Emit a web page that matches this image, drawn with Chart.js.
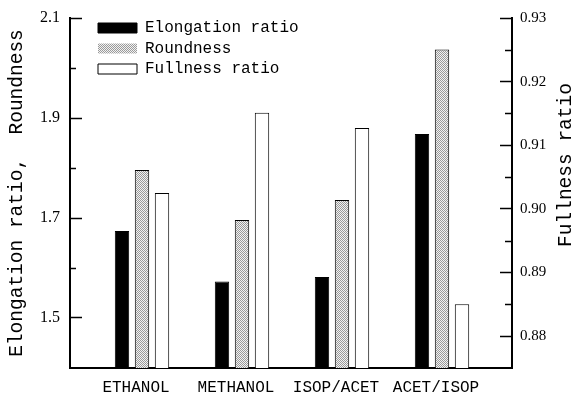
<!DOCTYPE html>
<html><head><meta charset="utf-8">
<script src="https://cdn.jsdelivr.net/npm/chart.js@4/dist/chart.umd.min.js"></script>
<style>html,body{margin:0;padding:0;background:#fff}canvas{display:block}</style>
</head><body>
<canvas id="c" width="579" height="393"></canvas>
<script>
// ---- data ----
const categories = ['ETHANOL', 'METHANOL', 'ISOP/ACET', 'ACET/ISOP'];
const elongationRatio = [1.674, 1.573, 1.582, 1.868];
const roundness = [1.796, 1.696, 1.736, 2.037];
const fullnessRatio = [0.9025, 0.9151, 0.9127, 0.885];
const seriesNames = ['Elongation ratio', 'Roundness', 'Fullness ratio'];
const leftTicks = [1.5, 1.7, 1.9, 2.1];
const rightTicks = [0.88, 0.89, 0.90, 0.91, 0.92, 0.93];
const leftTitle = 'Elongation ratio,  Roundness';
const rightTitle = 'Fullness ratio';

// stippled gray pattern
function makePattern() {
  const p = document.createElement('canvas');
  p.width = 2; p.height = 2;
  const g = p.getContext('2d');
  g.fillStyle = '#f2f2f2'; g.fillRect(0, 0, 2, 2);
  g.fillStyle = '#9a9a9a'; g.fillRect(0, 0, 1, 1); g.fillRect(1, 1, 1, 1);
  return g.createPattern(p, 'repeat');
}
const stipple = makePattern();

const MONO = "'Liberation Mono', 'DejaVu Sans Mono', monospace";
const SERIF = "'Liberation Serif', 'DejaVu Serif', serif";

const toXY = arr => arr.map((v, i) => ({x: i, y: v}));
const noPad = s => { s.paddingTop = 0; s.paddingBottom = 0; s.paddingLeft = 0; s.paddingRight = 0; };

const extras = {
  id: 'extras',
  afterLayout(chart) {
    const lg = chart.legend;
    const ca = chart.chartArea;
    if (lg) { lg.left = ca.left + 23.5; lg.top = ca.top - 2.5; }
  },
  afterDraw(chart) {
    const ctx = chart.ctx;
    const ca = chart.chartArea;
    ctx.save();
    // minor ticks (midpoints between major ticks)
    ctx.strokeStyle = '#000';
    ctx.lineWidth = 1.5;
    const yl = chart.scales.y, yr = chart.scales.y2;
    for (let i = 0; i < leftTicks.length - 1; i++) {
      const py = Math.round(yl.getPixelForValue((leftTicks[i] + leftTicks[i + 1]) / 2)) + 0.5;
      ctx.beginPath(); ctx.moveTo(ca.left, py); ctx.lineTo(ca.left + 6, py); ctx.stroke();
    }
    for (let i = 0; i < rightTicks.length - 1; i++) {
      const py = Math.round(yr.getPixelForValue((rightTicks[i] + rightTicks[i + 1]) / 2)) + 0.5;
      ctx.beginPath(); ctx.moveTo(ca.right, py); ctx.lineTo(ca.right - 7, py); ctx.stroke();
    }
    // axis titles
    ctx.fillStyle = '#000';
    ctx.font = "19.5px " + MONO;
    ctx.textAlign = 'center';
    ctx.textBaseline = 'middle';
    ctx.save();
    ctx.translate(17, (ca.top + ca.bottom) / 2);
    ctx.rotate(-Math.PI / 2);
    ctx.fillText(leftTitle, 0, 0);
    ctx.restore();
    ctx.save();
    ctx.translate(566, 165);
    ctx.rotate(-Math.PI / 2);
    ctx.fillText(rightTitle, 0, 0);
    ctx.restore();
    ctx.restore();
  }
};

new Chart(document.getElementById('c'), {
  type: 'bar',
  data: {
    datasets: [
      {label: seriesNames[0], data: toXY(elongationRatio), yAxisID: 'y',
       backgroundColor: '#000', borderColor: '#000', borderWidth: 1},
      {label: seriesNames[1], data: toXY(roundness), yAxisID: 'y',
       backgroundColor: stipple, borderColor: '#000', borderWidth: 1},
      {label: seriesNames[2], data: toXY(fullnessRatio), yAxisID: 'y2',
       backgroundColor: '#fff', borderColor: '#000', borderWidth: 1}
    ]
  },
  options: {
    responsive: false,
    animation: false,
    devicePixelRatio: 1,
    categoryPercentage: 0.6,
    barPercentage: 0.72,
    layout: {padding: {top: 18, left: 0, right: 0, bottom: 0}},
    plugins: {
      tooltip: {enabled: false},
      legend: {
        position: 'chartArea',
        align: 'start',
        labels: {
          font: {family: MONO, size: 16},
          color: '#000',
          boxWidth: 39,
          boxHeight: 10,
          padding: 4.5,
          generateLabels: chart => {
            const items = Chart.defaults.plugins.legend.labels.generateLabels(chart);
            items[1].lineWidth = 0;
            return items;
          }
        }
      }
    },
    scales: {
      x: {
        type: 'linear',
        offset: false,
        min: -0.72,
        max: 3.70,
        afterBuildTicks: s => { s.ticks = categories.map((_, i) => ({value: i})); },
        afterFit: s => { s.height = 25; noPad(s); },
        grid: {display: false, drawTicks: false},
        border: {display: true, color: '#000', width: 2},
        ticks: {
          autoSkip: false, maxRotation: 0, padding: 10, labelOffset: -6,
          color: '#000', font: {family: MONO, size: 16},
          callback: (v, i) => categories[i]
        }
      },
      y: {
        position: 'left',
        min: 1.4, max: 2.1,
        afterBuildTicks: s => { s.ticks = leftTicks.map(v => ({value: v})); },
        afterFit: s => { s.width = 70; noPad(s); },
        grid: {drawOnChartArea: false, drawTicks: true, tickLength: -12, tickWidth: 1.5, tickColor: '#000'},
        border: {display: true, color: '#000', width: 2},
        ticks: {
          padding: 22, color: '#000', font: {family: SERIF, size: 16},
          callback: v => Number(v).toFixed(1)
        }
      },
      y2: {
        position: 'right',
        min: 0.875, max: 0.93,
        afterBuildTicks: s => { s.ticks = rightTicks.map(v => ({value: v})); },
        afterFit: s => { s.width = 67; noPad(s); },
        grid: {drawOnChartArea: false, drawTicks: true, tickLength: -12, tickWidth: 1.5, tickColor: '#000'},
        border: {display: true, color: '#000', width: 2},
        ticks: {
          padding: 20, color: '#000', font: {family: SERIF, size: 15},
          callback: v => Number(v).toFixed(2)
        }
      }
    }
  },
  plugins: [extras]
});
</script>
</body></html>
